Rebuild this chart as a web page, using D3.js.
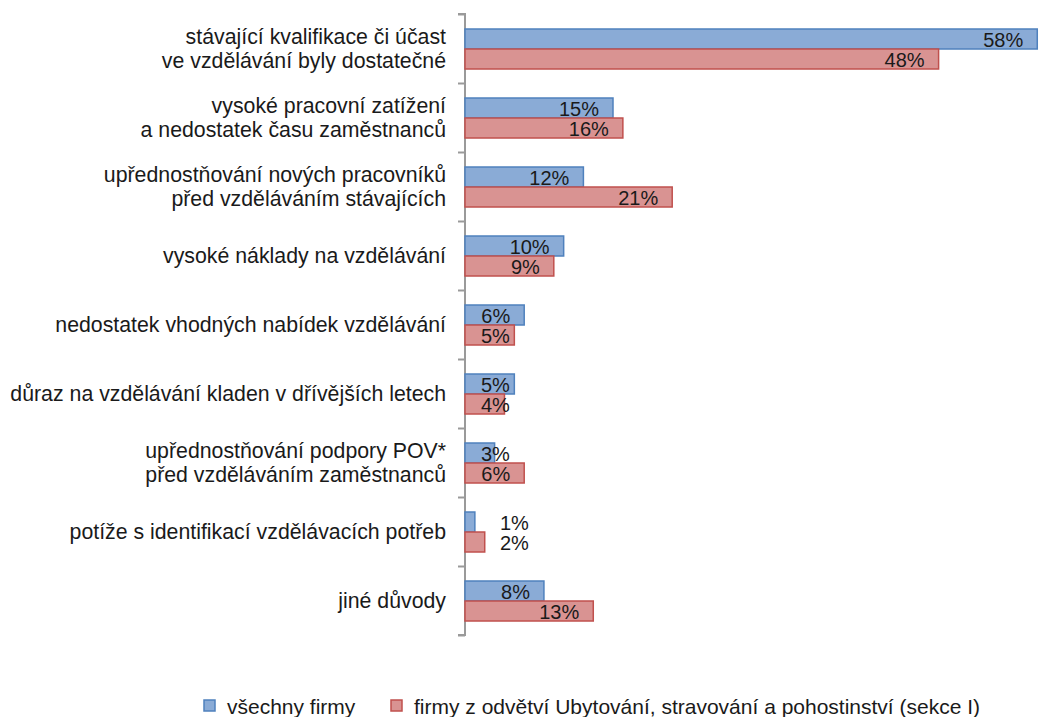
<!DOCTYPE html>
<html>
<head>
<meta charset="utf-8">
<script src="https://cdn.jsdelivr.net/npm/d3@7"></script>
<style>
body { margin: 0; background: #fff; }
text { font-family: "Liberation Sans", Arial, sans-serif; }
</style>
</head>
<body>
<div class="chart"></div>
<script>
const width = 1039;
const height = 717;

// categories (each may wrap onto two lines)
const categories = [
	["stávající kvalifikace či účast", "ve vzdělávání byly dostatečné"],
	["vysoké pracovní zatížení", "a nedostatek času zaměstnanců"],
	["upřednostňování nových pracovníků", "před vzděláváním stávajících"],
	["vysoké náklady na vzdělávání"],
	["nedostatek vhodných nabídek vzdělávání"],
	["důraz na vzdělávání kladen v dřívějších letech"],
	["upřednostňování podpory POV*", "před vzděláváním zaměstnanců"],
	["potíže s identifikací vzdělávacích potřeb"],
	["jiné důvody"]
];
const allFirms = [58, 15, 12, 10, 6, 5, 3, 1, 8];
const sectorI = [48, 16, 21, 9, 5, 4, 6, 2, 13];
const seriesNames = ["všechny firmy", "firmy z odvětví Ubytování, stravování a pohostinství (sekce I)"];

const colors = [
	{fill: "#8aabd6", stroke: "#4f81bd"},
	{fill: "#d99392", stroke: "#c0504d"}
];

const x0 = 465;
const plotTop = 14;
const band = 69;
const plotBottom = plotTop + band * categories.length;
const fs = 21.3;

const svg = d3.select('.chart')
	.append('svg')
	.attr('width', width)
	.attr('height', height)

const x = d3.scaleLinear().domain([0, 60]).range([x0, x0 + 592])
const y = d3.scaleBand().domain(d3.range(categories.length)).range([plotTop, plotBottom])

const barH = 20;

// axis line with ticks
const yAxis = d3.axisLeft(d3.scaleLinear().domain([0, categories.length]).range([plotTop, plotBottom]))
	.ticks(categories.length)
	.tickSize(7)
	.tickFormat('')
svg.append('g')
	.attr('transform', 'translate(' + x0 + ',0)')
	.call(yAxis)
	.call(g => g.select('.domain').attr('stroke', '#9a9a9a').attr('stroke-width', 2).attr('d', 'M-7,' + plotTop + 'H0V' + plotBottom + 'H-7'))
	.call(g => g.selectAll('.tick line').attr('stroke', '#9a9a9a').attr('stroke-width', 2))

const series = [allFirms, sectorI];

series.forEach(function(vals, s){
	svg.selectAll('.bar' + s)
		.data(vals)
		.enter()
		.append('rect')
		.attr('x', x0)
		.attr('y', function(d, i){ return y(i) + band / 2 - barH + s * barH + 0.5 })
		.attr('width', function(d){ return x(d) - x0 })
		.attr('height', barH)
		.attr('fill', colors[s].fill)
		.attr('stroke', colors[s].stroke)
		.attr('stroke-width', 1.5)

	svg.selectAll('.lab' + s)
		.data(vals)
		.enter()
		.append('text')
		.attr('font-size', 20)
		.attr('fill', '#1a1a1a')
		.attr('dominant-baseline', 'central')
		.attr('text-anchor', function(d){ return d < 3 ? 'middle' : 'start' })
		.attr('y', function(d, i){ return y(i) + band / 2 - barH / 2 + s * barH + 1.5 })
		.text(function(d){ return d + '%' })
		.attr('x', function(d){
			if (d < 3) return x(5)
			const w = this.getComputedTextLength()
			return Math.max(x(d) - 14 - w, x0 + 16)
		})
})

// category labels
const lineH = 24;
categories.forEach(function(lines, i){
	const t = svg.append('text')
		.attr('text-anchor', 'end')
		.attr('font-size', fs)
		.attr('fill', '#1a1a1a')
	lines.forEach(function(line, k){
		t.append('tspan')
			.attr('x', x0 - 19)
			.attr('y', y(i) + band / 2 + (k - (lines.length - 1) / 2) * lineH)
			.attr('dominant-baseline', 'central')
			.text(line)
	})
})

// legend
const legendX = [204, 391];
seriesNames.forEach(function(name, s){
	svg.append('rect')
		.attr('x', legendX[s])
		.attr('y', 700)
		.attr('width', 11)
		.attr('height', 11)
		.attr('fill', colors[s].fill)
		.attr('stroke', colors[s].stroke)
		.attr('stroke-width', 1.5)
	svg.append('text')
		.attr('x', legendX[s] + 23)
		.attr('y', 706)
		.attr('dominant-baseline', 'central')
		.attr('font-size', 21)
		.attr('fill', '#1a1a1a')
		.text(name)
})
</script>
</body>
</html>
